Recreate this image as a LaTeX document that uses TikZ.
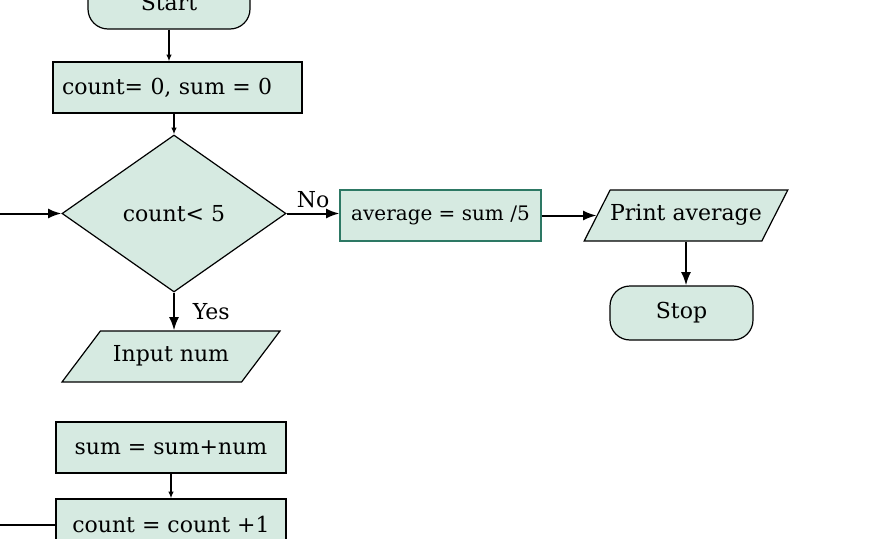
\documentclass[tikz,border=0pt]{standalone}
\usepackage{fontspec}
\setmainfont{DejaVu Serif}
\usetikzlibrary{shapes.geometric, arrows.meta, positioning}
\definecolor{flowfill}{RGB}{214, 234, 225}
\definecolor{flowteal}{RGB}{45, 120, 100}
\tikzset{
  flowfont/.style={font=\fontsize{16.5}{19}\selectfont},
  procbox/.style={draw, fill=flowfill, line width=0.9pt, minimum height=38.25pt, inner sep=0pt, flowfont},
  termbox/.style={procbox, rounded corners=15pt, minimum height=40.5pt},
  iobox/.style={procbox, trapezium, trapezium stretches body, text height=12pt, text depth=4pt, inner ysep=11.125pt},
  decbox/.style={procbox, diamond},
  flow/.style={-{Latex[length=10pt, width=7.5pt]}, line width=1.5pt},
  thinflow/.style={-{Latex[length=5pt, width=4pt]}, line width=1pt},
}

\begin{document}
\begin{tikzpicture}[x=0.75pt, y=-0.75pt]
  \useasboundingbox (0,0) rectangle (879,539);

  % Start and initialisation
  \node[termbox, minimum width=121.5pt] (start) at (169, 2) {Start};
  \node[procbox, minimum width=186.75pt, text width=173.25pt, inner xsep=6.75pt, align=left] (init) at (177.5, 87.5) {count= 0, sum = 0};

  % Loop test
  \node[decbox, minimum width=168pt, minimum height=117.75pt] (test) at (174, 213.5) {count< 5};

  % Loop body
  \node[iobox, trapezium left angle=53, trapezium right angle=127, minimum width=163.5pt] (input) at (171, 356.5) {Input num};
  \node[procbox, minimum width=172.5pt] (add) at (171, 447.5) {sum = sum+num};
  \node[procbox, minimum width=172.5pt] (incr) at (171, 524.5) {count = count +1};

  % After the loop
  \node[procbox, draw=flowteal, minimum width=150.75pt, font=\fontsize{15}{18}\selectfont] (avg) at (440.5, 215.5) {average = sum /5};
  \node[iobox, trapezium left angle=63, trapezium right angle=117, minimum width=148.5pt] (print) at (686, 215.5) {Print average};
  \node[termbox, minimum width=107.25pt] (stop) at (681.5, 313) {Stop};

  % Loop ends at the left edge
  \coordinate (loopin) at (0, 213.5);
  \coordinate (loopout) at (0, 524.5);

  % Arrows
  \draw[thinflow] (start.south) -- (start.south |- init.north);
  \draw[thinflow] (test.north |- init.south) -- (test.north);
  \draw[flow] (loopin) -- (test.west);
  \draw[flow] (test.east) -- (test.east -| avg.west) node[midway, above, flowfont] {No};
  \draw[flow] (avg.east) -- (avg.east -| print.west);
  \draw[flow] (print.south) -- (print.south |- stop.north);
  \draw[flow] (test.south) -- (test.south |- input.north) node[midway, right, xshift=10pt, flowfont] {Yes};
  \draw[thinflow] (add) -- (incr);
  \draw[line width=1.5pt] (incr.west) -- (incr.west -| loopout);
\end{tikzpicture}
\end{document}
